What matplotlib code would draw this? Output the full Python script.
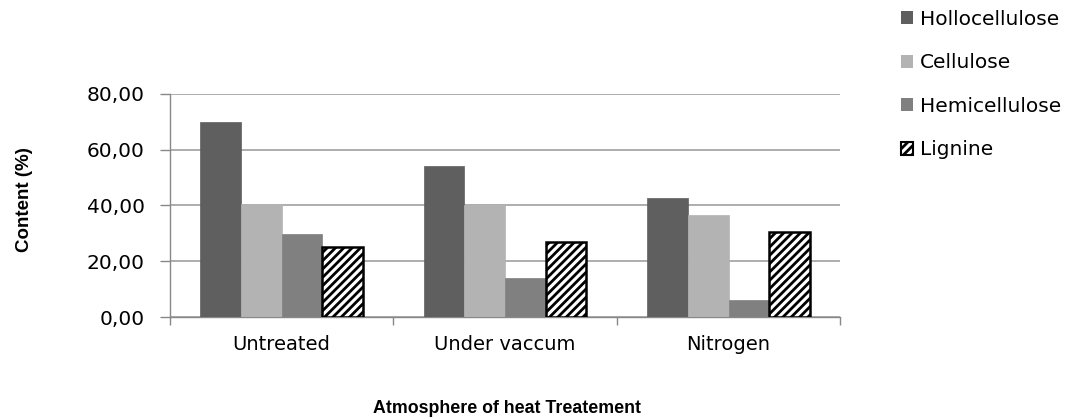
import matplotlib
matplotlib.use("Agg")
import matplotlib.pyplot as plt
import numpy as np
from matplotlib.ticker import FuncFormatter
from matplotlib.patches import Patch

categories = ["Untreated", "Under vaccum", "Nitrogen"]
series_names = ["Hollocellulose", "Cellulose", "Hemicellulose", "Lignine"]
hollocellulose = [70.1, 54.1, 42.8]
cellulose = [40.7, 40.1, 36.6]
hemicellulose = [29.6, 14.0, 6.1]
lignine = [25.1, 26.9, 30.4]

plt.rcParams['font.family'] = ['DejaVu Sans']
plt.rcParams['hatch.linewidth'] = 2.0
plt.rcParams['hatch.color'] = 'black'

fig = plt.figure(figsize=(10.69, 4.19), dpi=100)
ax = fig.add_axes([0.159, 0.2434, 0.627, 0.5323])

x = np.arange(len(categories))
w = 0.182
values = [hollocellulose, cellulose, hemicellulose, lignine]
colors = ["#5f5f5f", "#b3b3b3", "#808080", "white"]
edges = ["#5f5f5f", "#b3b3b3", "#808080", "black"]
hatches = [None, None, None, "////"]
for i, (vals, c, e, h) in enumerate(zip(values, colors, edges, hatches)):
    ax.bar(x + (i - 1.5) * w, vals, w, color=c, edgecolor=e,
           hatch=h, linewidth=1.8 if h else 0.5, zorder=3, label=series_names[i])

ax.set_xlim(-0.5, 2.5)
ax.set_ylim(0, 80)
ax.set_yticks([0, 20, 40, 60, 80])
ax.yaxis.set_major_formatter(FuncFormatter(lambda v, p: f"{v:.2f}".replace('.', ',')))
ax.yaxis.grid(True, color="#a0a0a0", linewidth=1.2, zorder=0)
ax.set_xticks(x)
ax.set_xticklabels(categories)
ax.set_xticks([-0.5, 0.5, 1.5, 2.5], minor=True)
ax.tick_params(axis='x', which='major', length=0, labelsize=14, pad=13)
ax.tick_params(axis='x', which='minor', length=5.8, color="#888888", width=1)
ax.tick_params(axis='y', length=7.2, color="#888888", width=1, labelsize=14.5, pad=11)
for s in ["top", "right"]:
    ax.spines[s].set_visible(False)
ax.spines["left"].set_color("#888888")
ax.spines["bottom"].set_color("#888888")
ax.spines["left"].set_linewidth(1)
ax.spines["bottom"].set_linewidth(1)

fig.text(0.0225, 0.523, "Content (%)", rotation=90, fontsize=13.5, fontweight="bold",
         family="Liberation Sans", ha="center", va="center")
fig.text(0.4747, 0.026, "Atmosphere of heat Treatement", fontsize=12.8, fontweight="bold",
         family="Liberation Sans", ha="center", va="center")

handles = [Patch(facecolor=c, edgecolor=e, hatch=h, linewidth=1.5 if h else 0)
           for c, e, h in zip(colors, edges, ["", "", "", "////"])]
fig.legend(handles, series_names, loc="upper left", bbox_to_anchor=(0.826, 1.02),
           frameon=False, fontsize=14.5, handlelength=0.6, handleheight=0.6,
           handletextpad=0.35, labelspacing=1.22)

fig.savefig("out.png", dpi=100)
